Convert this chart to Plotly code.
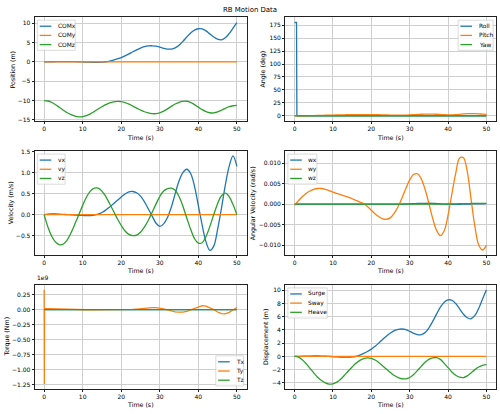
import plotly.graph_objects as go

# ---------------- data ----------------
t = list(range(0, 51))

com_x = [0, 0, 0.02, 0.03, 0.05, 0.06, 0.06, 0.05, 0.03, 0.0, -0.03, -0.07, -0.1, -0.12, -0.12, -0.08,
         0.02, 0.2, 0.45, 0.75, 1.1, 1.55, 2.05, 2.6, 3.1, 3.55, 3.9, 4.1, 4.15, 4.05, 3.8, 3.5, 3.3,
         3.3, 3.6, 4.3, 5.3, 6.4, 7.45, 8.2, 8.55, 8.5, 8.0, 7.2, 6.4, 5.85, 5.7, 6.2, 7.3, 8.7, 10.1]
com_y = [0.0] * 51
com_z = [-10.0, -10.12, -10.5, -11.1, -11.8, -12.5, -13.15, -13.65, -14.0, -14.2, -14.15, -13.9, -13.45,
         -12.85, -12.2, -11.6, -11.05, -10.6, -10.32, -10.22, -10.3, -10.55, -10.95, -11.45, -11.95,
         -12.45, -12.9, -13.2, -13.38, -13.4, -13.2, -12.75, -12.15, -11.5, -10.9, -10.45, -10.22,
         -10.18, -10.45, -11.05, -11.7, -12.35, -12.85, -13.15, -13.2, -12.95, -12.5, -12.0, -11.6,
         -11.35, -11.25]

roll_t = [0, 0.5, 0.6, 1, 50]
roll = [180, 180, 0.0, 0.0, 0.0]
pitch = [0, 0.03, 0.1, 0.22, 0.38, 0.58, 0.79, 1.0, 1.22, 1.42, 1.6, 1.77, 1.92, 2.06, 2.18, 2.3, 2.4,
         2.48, 2.52, 2.53, 2.49, 2.37, 2.2, 1.99, 1.78, 1.58, 1.43, 1.36, 1.4, 1.6, 1.9, 2.3, 2.75, 3.15,
         3.42, 3.5, 3.38, 3.1, 2.65, 2.25, 2.0, 2.05, 2.4, 3.0, 3.65, 4.2, 4.5, 4.4, 4.0, 3.4, 2.8]
yaw = [0.0] * 51

vx = [0, 0.01, 0.015, 0.015, 0.01, 0.005, 0, -0.005, -0.01, -0.015, -0.02, -0.025, -0.025, -0.015,
      0.01, 0.05, 0.11, 0.18, 0.26, 0.34, 0.42, 0.49, 0.54, 0.55, 0.52, 0.44, 0.31, 0.14, -0.03, -0.2,
      -0.28, -0.22, -0.07, 0.18, 0.5, 0.8, 1.0, 1.08, 0.98, 0.68, 0.22, -0.25, -0.65, -0.85, -0.75,
      -0.35, 0.15, 0.7, 1.15, 1.4, 1.15]
vy = [0.0] * 51
vz = [0.0, -0.3, -0.52, -0.66, -0.72, -0.7, -0.6, -0.43, -0.22, 0.0, 0.22, 0.42, 0.56, 0.63, 0.63, 0.56,
      0.43, 0.26, 0.08, -0.1, -0.26, -0.39, -0.47, -0.5, -0.49, -0.42, -0.3, -0.14, 0.05, 0.25, 0.43,
      0.56, 0.62, 0.63, 0.58, 0.43, 0.2, -0.08, -0.35, -0.57, -0.68, -0.67, -0.52, -0.28, 0.0, 0.26,
      0.45, 0.51, 0.43, 0.24, 0.0]

wx = [0.0] * 29 + [0.00003, 0.00006, 0.0001, 0.00014, 0.00017, 0.00019, 0.0002, 0.00018, 0.00012,
                   0.00006, 0.0, -0.00003, -0.00005, -0.00005, -0.00004, -0.00002, 0.0, 0.00002,
                   0.00004, 0.00006, 0.00008, 0.0001, 0.0001]
wy = [-0.0003, 0.0008, 0.0018, 0.0026, 0.0032, 0.0036, 0.0038, 0.0038, 0.0036, 0.0033, 0.0029, 0.0026,
      0.0023, 0.002, 0.0017, 0.0013, 0.0009, 0.0005, 0.0001, -0.0006, -0.0015, -0.0024, -0.0031,
      -0.0036, -0.0037, -0.0033, -0.0022, -0.0006, 0.0015, 0.0038, 0.0059, 0.0072, 0.0074, 0.0062,
      0.0036, 0.0002, -0.0035, -0.0064, -0.0077, -0.0065, -0.0027, 0.0025, 0.0075, 0.0112, 0.0113,
      0.008, 0.0012, -0.0055, -0.0100, -0.0112, -0.0100]
wz = [0.0] * 40 + [0.00002, 0.00004, 0.00006, 0.00008, 0.0001, 0.00012, 0.00014, 0.00015, 0.00016,
                   0.00016, 0.00015]

tq_t = [0, 0.05, 0.1] + list(range(1, 51))
ty = [0.33e9, -1.24e9, 0.02e9] + [v * 1e9 for v in [
    0.018, 0.015, 0.012, 0.008, 0.005, 0.003, 0.001, 0.0, -0.001, -0.002, -0.002, -0.003, -0.003,
    -0.003, -0.003, -0.003, -0.004, -0.004, -0.004, -0.004, -0.003, 0.0, 0.005, 0.01, 0.017, 0.024,
    0.03, 0.033, 0.032, 0.025, 0.012, -0.005, -0.022, -0.036, -0.043, -0.042, -0.028, -0.005, 0.025,
    0.052, 0.066, 0.06, 0.035, 0.0, -0.04, -0.068, -0.07, -0.045, -0.005, 0.035]]
tx = [0.0] * len(tq_t)
tz = [0.0] * len(tq_t)

surge = list(com_x)
sway = [0.0] * 51
heave = [0, -0.12, -0.5, -1.1, -1.8, -2.5, -3.15, -3.65, -4.0, -4.2, -4.15, -3.9, -3.45, -2.85, -2.2,
         -1.6, -1.05, -0.6, -0.32, -0.22, -0.3, -0.55, -0.95, -1.45, -1.95, -2.45, -2.9, -3.2, -3.38,
         -3.4, -3.2, -2.75, -2.15, -1.5, -0.9, -0.45, -0.22, -0.18, -0.45, -1.05, -1.7, -2.35, -2.85,
         -3.15, -3.2, -2.95, -2.5, -2.0, -1.6, -1.35, -1.25]

x_ticks = [0, 10, 20, 30, 40, 50]
pos_ticks = [-15, -10, -5, 0, 5, 10]
ang_ticks = [0, 25, 50, 75, 100, 125, 150, 175]
vel_ticks = [-0.5, 0.0, 0.5, 1.0, 1.5]
avel_ticks = [-0.010, -0.005, 0.0, 0.005, 0.010]
tq_ticks = [-1.25e9, -1.0e9, -0.75e9, -0.5e9, -0.25e9, 0.0, 0.25e9]
tq_ticktext = ["\u22121.25", "\u22121.00", "\u22120.75", "\u22120.50", "\u22120.25", "0.00", "0.25"]
disp_ticks = [-4, -2, 0, 2, 4, 6, 8, 10]

# ---------------- styling ----------------
W, H = 500, 414
C1, C2, C3 = "#1f77b4", "#ff7f0e", "#2ca02c"
FONT = "DejaVu Sans"
FS_TICK = 6.0
FS_LAB = 6.3
FS_LEG = 5.9
LW = 1.3

COLS = [(34.5, 246.5), (285.0, 496.0)]
ROWS = [(14.5, 119.5), (150.0, 255.0), (285.5, 390.5)]

def px(x):
    return x / W

def py(y):
    return 1 - y / H

fig = go.Figure()

panels = [
    dict(r=0, c=0, tr=[("COMx", t, com_x, C1), ("COMy", t, com_y, C2), ("COMz", t, com_z, C3)],
         yl="Position (m)", yr=[-15.3, 11.5], tv=pos_ticks, tt=None, tf=None, corner="ul", tw=17.0, lx=12.3),
    dict(r=0, c=1, tr=[("Roll", roll_t, roll, C1), ("Pitch", t, pitch, C2), ("Yaw", t, yaw, C3)],
         yl="Angle (deg)", yr=[-10, 190], tv=ang_ticks, tt=None, tf=None, corner="ur", tw=14.2, lx=263.3),
    dict(r=1, c=0, tr=[("vx", t, vx, C1), ("vy", t, vy, C2), ("vz", t, vz, C3)],
         yl="Velocity (m/s)", yr=[-0.96, 1.51], tv=vel_ticks, tt=None, tf=".1f", corner="ul", tw=6.9, lx=11.3),
    dict(r=1, c=1, tr=[("wx", t, wx, C1), ("wy", t, wy, C2), ("wz", t, wz, C3)],
         yl="Angular Velocity (rad/s)", yr=[-0.0124, 0.0129], tv=avel_ticks, tt=None, tf=".3f", corner="ul",
         tw=8.2, lx=253.3),
    dict(r=2, c=0, tr=[("Tx", tq_t, tx, C1), ("Ty", tq_t, ty, C2), ("Tz", tq_t, tz, C3)],
         yl="Torque (Nm)", yr=[-1.32e9, 0.41e9], tv=tq_ticks, tt=tq_ticktext, tf=None, corner="lr", tw=7.0,
         lx=6.7),
    dict(r=2, c=1, tr=[("Surge", t, surge, C1), ("Sway", t, sway, C2), ("Heave", t, heave, C3)],
         yl="Displacement (m)", yr=[-4.9, 10.8], tv=disp_ticks, tt=None, tf=None, corner="ul", tw=18.5,
         lx=266.0),
]

shapes = []
annotations = []

for i, p in enumerate(panels):
    n = i + 1
    xa = "x" if n == 1 else f"x{n}"
    ya = "y" if n == 1 else f"y{n}"
    fl, fr = COLS[p["c"]]
    ft, fb = ROWS[p["r"]]
    for name, xs, ys, col in p["tr"]:
        shape = "linear" if name in ("Roll", "Tx", "Ty", "Tz") else "spline"
        fig.add_trace(go.Scatter(x=xs, y=ys, mode="lines", name=name, xaxis=xa, yaxis=ya,
                                 line=dict(color=col, width=LW, shape=shape), showlegend=False,
                                 hoverinfo="skip"))
    common = dict(showline=True, mirror=True, linecolor="#222222", linewidth=0.7, ticks="outside",
                  ticklen=2, tickwidth=0.6, tickcolor="#222222", showgrid=True, gridcolor="#cfcfcf",
                  gridwidth=0.8, zeroline=False, tickfont=dict(family=FONT, size=FS_TICK, color="black"))
    fig.layout[("xaxis" if n == 1 else f"xaxis{n}")] = dict(
        domain=[px(fl), px(fr)], anchor=ya, range=[-2.5, 52.5], tickvals=x_ticks, **common)
    yax = dict(domain=[py(fb), py(ft)], anchor=xa, range=p["yr"], tickvals=p["tv"], **common)
    if p["tt"] is not None:
        yax["ticktext"] = p["tt"]
    if p["tf"] is not None:
        yax["tickformat"] = p["tf"]
    fig.layout[("yaxis" if n == 1 else f"yaxis{n}")] = yax

    annotations.append(dict(x=px((fl + fr) / 2), y=py(fb + 16.2), xref="paper", yref="paper",
                            text="Time (s)", showarrow=False, xanchor="center", yanchor="middle",
                            font=dict(family=FONT, size=FS_LAB, color="black")))
    annotations.append(dict(x=px(p["lx"]), y=py((ft + fb) / 2), xref="paper", yref="paper",
                            text=p["yl"], showarrow=False, textangle=-90, xanchor="center",
                            yanchor="middle", font=dict(family=FONT, size=FS_LAB, color="black")))

    w = 2.3 + 11.6 + 4.6 + p["tw"] + 2.3
    h = 30.5
    if p["corner"] == "ul":
        bx0, by0 = fl + 2.9, ft + 2.9
    elif p["corner"] == "ur":
        bx0, by0 = fr - 2.9 - w, ft + 2.9
    else:
        bx0, by0 = fr - 2.9 - w, fb - 2.9 - h
    shapes.append(dict(type="rect", xref="paper", yref="paper", x0=px(bx0), x1=px(bx0 + w),
                       y0=py(by0 + h), y1=py(by0), line=dict(color="#cccccc", width=0.7),
                       fillcolor="rgba(255,255,255,0.8)", layer="above"))
    for k, (name, xs, ys, col) in enumerate(p["tr"]):
        yy = by0 + 6.1 + k * 9.3
        shapes.append(dict(type="line", xref="paper", yref="paper", x0=px(bx0 + 2.3), x1=px(bx0 + 13.9),
                           y0=py(yy), y1=py(yy), line=dict(color=col, width=LW), layer="above"))
        annotations.append(dict(x=px(bx0 + 18.5), y=py(yy), xref="paper", yref="paper", text=name,
                                showarrow=False, xanchor="left", yanchor="middle",
                                font=dict(family=FONT, size=FS_LEG, color="black")))

annotations.append(dict(x=px(34.5), y=py(283.5), xref="paper", yref="paper", text="1e9",
                        showarrow=False, xanchor="left", yanchor="bottom",
                        font=dict(family=FONT, size=FS_TICK, color="black")))
annotations.append(dict(x=0.5, y=py(7.5), xref="paper", yref="paper", text="RB Motion Data",
                        showarrow=False, xanchor="center", yanchor="middle",
                        font=dict(family=FONT, size=6.95, color="black")))

fig.update_layout(width=W, height=H, margin=dict(l=0, r=0, t=0, b=0), paper_bgcolor="white",
                  plot_bgcolor="white", showlegend=False, shapes=shapes, annotations=annotations)

fig.write_html("out.html")
